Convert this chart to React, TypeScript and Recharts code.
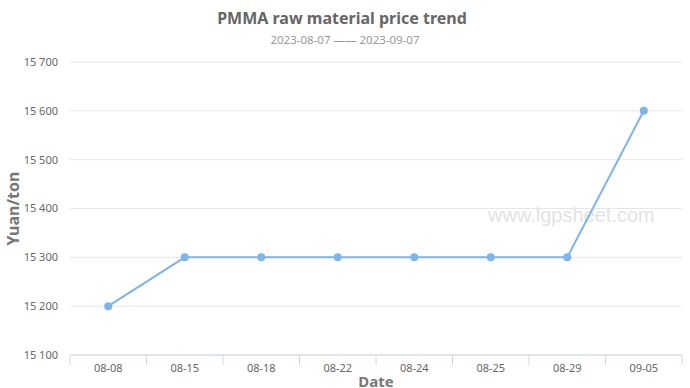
import React from "react";
import { LineChart, Line, XAxis, YAxis, CartesianGrid, Label } from "recharts";

const dates = ["08-08", "08-15", "08-18", "08-22", "08-24", "08-25", "08-29", "09-05"];
const prices = [15200, 15300, 15300, 15300, 15300, 15300, 15300, 15600];
const priceTicks = [15100, 15200, 15300, 15400, 15500, 15600, 15700];

const data = dates.map((d, i) => ({ date: d, price: prices[i] }));

const FONT = "'Noto Sans', 'Open Sans', sans-serif";
const BAND = 612 / dates.length;

const fmt = (v: number) => String(v).replace(/\B(?=(\d{3})+(?!\d))/g, " ");

const DateTick = (props: any) => {
  const { x, y, payload, index } = props;
  const last = index === dates.length - 1;
  return (
    <g>
      <line x1={x - BAND / 2} x2={x - BAND / 2} y1={y} y2={y + 10} stroke="#ccd6eb" />
      {last && <line x1={x + BAND / 2} x2={x + BAND / 2} y1={y} y2={y + 10} stroke="#ccd6eb" />}
      <text x={x} y={y + 17} textAnchor="middle" fontSize={11} fill="#666" fontFamily={FONT}>
        {payload.value}
      </text>
    </g>
  );
};

const YTitle = (props: any) => {
  const { viewBox } = props;
  const cy = viewBox.y + viewBox.height / 2;
  return (
    <text
      x={19}
      y={cy}
      transform={`rotate(-90, 19, ${cy})`}
      textAnchor="middle"
      fontSize={16}
      fontWeight="bold"
      fill="#777"
      fontFamily={FONT}
    >
      Yuan/ton
    </text>
  );
};

export default function App() {
  return (
    <div style={{ position: "absolute", left: 0, top: 0, width: 690, height: 388, background: "#fff", fontFamily: FONT }}>
      <div style={{ position: "absolute", top: 7, left: -3, width: 690, textAlign: "center", fontSize: 16, fontWeight: "bold", color: "#666" }}>
        PMMA raw material price trend
      </div>
      <div style={{ position: "absolute", top: 32, width: 690, textAlign: "center", fontSize: 11.5, color: "#999" }}>
        2023-08-07 —— 2023-09-07
      </div>
      <div style={{ position: "absolute", left: 488, top: 204, fontSize: 20, color: "#e3e3e3", fontFamily: "'Liberation Sans', Arial, sans-serif" }}>
        www.lgpsheet.com
      </div>
      <div style={{ position: "absolute", left: 0, top: 0 }}>
        <LineChart width={690} height={388} data={data} margin={{ top: 62, right: 8, bottom: 0, left: 0 }}>
          <CartesianGrid horizontal vertical={false} stroke="#e6e6e6" />
          <XAxis
            dataKey="date"
            scale="band"
            height={33}
            stroke="#ccd6eb"
            tickLine={false}
            tickSize={0}
            tickMargin={0}
            tick={<DateTick />}
            interval={0}
          >
            <Label
              value="Date"
              position="insideBottom"
              offset={1}
              style={{ fontSize: 15, fontWeight: "bold", fill: "#777", fontFamily: FONT }}
            />
          </XAxis>
          <YAxis
            width={70}
            domain={[15100, 15700]}
            ticks={priceTicks}
            tickFormatter={fmt}
            axisLine={false}
            tickLine={false}
            tickSize={0}
            tickMargin={12}
            tick={{ fontSize: 11, fill: "#666", fontFamily: FONT }}
          >
            <Label content={<YTitle />} />
          </YAxis>
          <Line
            type="linear"
            dataKey="price"
            stroke="#7cb5ec"
            strokeWidth={2}
            dot={{ r: 4, fill: "#7cb5ec", stroke: "#7cb5ec", strokeWidth: 0 }}
            isAnimationActive={false}
          />
        </LineChart>
      </div>
    </div>
  );
}
